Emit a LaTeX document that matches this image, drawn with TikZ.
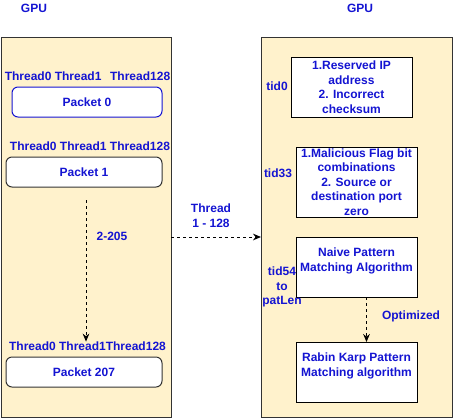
\documentclass[tikz,border=0pt]{standalone}
\usepackage{fontspec}
\setmainfont{Liberation Sans}
\usepackage{xcolor}
\usetikzlibrary{arrows.meta}

\definecolor{gpuText}{RGB}{20,20,210}
\definecolor{gpuFill}{HTML}{FFF2CC}
\definecolor{gpuLine}{HTML}{333333}

\begin{document}
\begin{tikzpicture}[
    x=0.75pt, y=-0.75pt,
    every node/.style={inner sep=0pt, outer sep=0pt},
    lbl/.style={text=gpuText, font=\fontsize{9}{10.9}\selectfont\bfseries, align=center},
    panel/.style={draw=gpuLine, fill=gpuFill, line width=0.75pt},
    pkt/.style={draw=gpuLine, fill=white, rounded corners=4.5pt, line width=0.75pt,
        minimum width=117pt, minimum height=22.5pt, lbl},
    chk/.style={draw=black, fill=white, line width=0.75pt,
        minimum width=90.75pt, lbl},
    dasharrow/.style={dashed, dash pattern=on 2.25pt off 2.25pt, line width=0.75pt,
        -{Stealth[length=6pt, width=5pt]}}
]
\useasboundingbox (0,0) rectangle (453,419);

% the two GPUs
\node [lbl] (gpuL) at (34,8) {GPU};
\node [lbl] (gpuR) at (360,8) {GPU};
\node [panel, minimum width=127.5pt, minimum height=285pt] (left) at (86,227) {};
\node [panel, minimum width=143.25pt, minimum height=285pt] (right) at (356.5,227) {};

% packets on the left GPU
\node [lbl] (tha) at (87.5,76) {Thread0 Thread1\hspace{6.5pt}Thread128};
\node [pkt, draw=gpuText, minimum width=112.5pt] (pkt0) at (87,102) {Packet 0};
\node [lbl] (thb) at (90,146) {Thread0 Thread1 Thread128};
\node [pkt] (pkt1) at (84,172) {Packet 1};
\node [lbl] (thc) at (87.5,346) {Thread0 Thread1Thread128};
\node [pkt] (pkt207) at (84,372) {Packet 207};
\node [lbl] (rest) at (112,236) {2-205};
\draw [dasharrow] ([yshift=-10pt]pkt1.south -| 86,0) -- (thc.north -| 86,0);

% threads to the right GPU
\node [lbl] (thr) at (211,215.5) {Thread\\1 - 128};
\draw [dasharrow] ([yshift=-7.5pt]left.east) -- ([yshift=-7.5pt]right.west);

% checks on the right GPU
\node [chk, minimum height=45pt] (ipchk) at (351.5,87)
    {1.Reserved IP\\address\\2. Incorrect\\checksum};
\node [lbl] (tid0) at (277,86) {tid0};
\node [chk, minimum height=52.5pt] (flagchk) at (356.5,182)
    {1.Malicious Flag bit\\combinations\\2. Source or\\destination port\\zero};
\node [lbl] (tid33) at (278,173) {tid33};
\node [chk, minimum height=45pt] (naive) at (356.5,267)
    {Naive Pattern\\Matching Algorithm\\\mbox{}};
\node [lbl] (tid54) at (282,287) {tid54\\to\\patLen};
\node [chk, minimum height=45pt] (rabin) at (356.5,372)
    {Rabin Karp Pattern\\Matching algorithm\\\mbox{}};
\node [lbl] (opt) at (411,316) {Optimized};
\draw [dasharrow] ([xshift=7.5pt]naive.south) -- ([xshift=7.5pt]rabin.north);
\end{tikzpicture}
\end{document}
